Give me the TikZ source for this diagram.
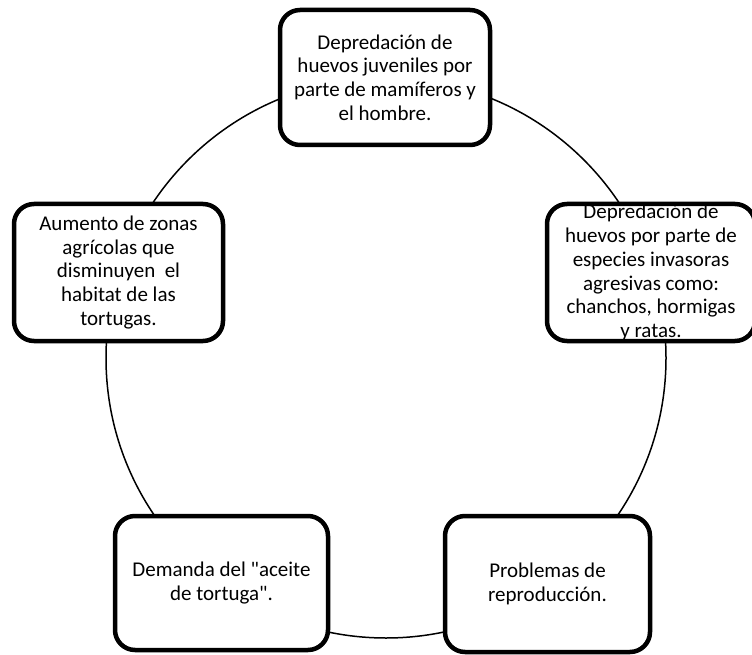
\documentclass[tikz,border=0pt]{standalone}
\usepackage{fontspec}
\setmainfont{Carlito}
\newfontfamily\carlplain{Carlito}
\begin{document}
\begin{tikzpicture}[x=1pt,y=-1pt,
  box/.style={draw, line width=4.5pt, rounded corners=20pt, fill=white, inner sep=0pt, rectangle},
  txt/.style={align=center, inner sep=0pt, font=\carlplain\fontsize{21}{23.8}\selectfont},
  ringstyle/.style={circle, draw, line width=1.5pt, inner sep=0pt, minimum size=560pt}]
\useasboundingbox (0,0) rectangle (752,655);
\node[ringstyle] (ring) at (386,358) {};
\node[box, minimum width=210pt, minimum height=135pt] (top) at (385,77.5) {};
\node[box, minimum width=208pt, minimum height=137pt] (right) at (651,272.5) {};
\node[box, minimum width=209pt, minimum height=137pt] (left) at (118.5,272.5) {};
\node[box, minimum width=213pt, minimum height=134pt] (bl) at (221.5,583) {};
\node[box, minimum width=205pt, minimum height=136pt] (br) at (547.5,584) {};
\node[txt] (ttop) at (top.center) {Depredación de\\huevos juveniles por\\parte de mamíferos y\\el hombre.};
\node[txt] (tright) at (right.center) {Depredación de\\huevos por parte de\\especies invasoras\\agresivas como:\\chanchos, hormigas\\y ratas.};
\node[txt] (tleft) at (left.center) {Aumento de zonas\\agrícolas que\\disminuyen\ \ el\\habitat de las\\tortugas.};
\node[txt] (tbl) at (bl.center) {Demanda del "aceite\\de tortuga".};
\node[txt] (tbr) at (br.center) {Problemas de\\reproducción.};
\end{tikzpicture}
\end{document}
